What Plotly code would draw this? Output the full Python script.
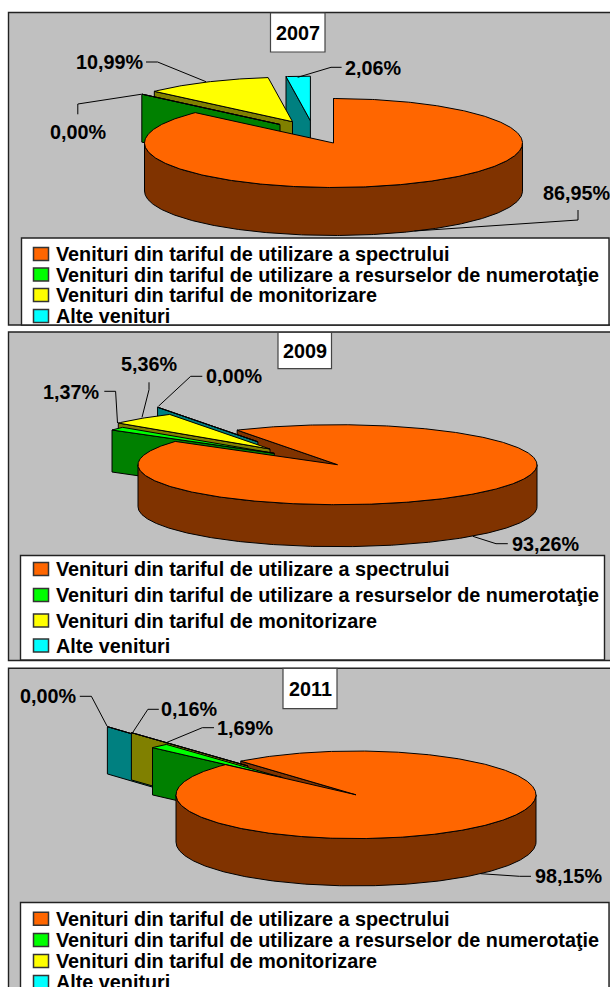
import numpy as np
import plotly.graph_objects as go

categories = ["Venituri din tariful de utilizare a spectrului",
              "Venituri din tariful de utilizare a resurselor de numerotaţie",
              "Venituri din tariful de monitorizare",
              "Alte venituri"]
years = ["2007", "2009", "2011"]
values_2007 = [86.95, 0.00, 10.99, 2.06]
values_2009 = [93.26, 1.37, 5.36, 0.00]
values_2011 = [98.15, 1.69, 0.16, 0.00]
all_values = [values_2007, values_2009, values_2011]

face_colors = ["#FF6600", "#00FF00", "#FFFF00", "#00FFFF"]
wall_colors = ["#803300", "#008000", "#808000", "#008080"]
GRAY = "#C0C0C0"
INK = "#000000"
FONT = "Liberation Sans"
FS = 19.8

panels = [
    dict(box=(8.5, 12.5, 640, 325), legend=(21.5, 238, 609, 325), title=(270.5, 13, 325, 52),
         pie=(334, 143, 189, 44.5, 48), first=0,
         apex=[(333.5, 143), (280, 124.5), (292.5, 121.7), (310.4, 120.7)],
         rows=[254, 274.5, 295, 316]),
    dict(box=(8.5, 332, 640, 660.5), legend=(20.5, 555.5, 604.5, 660), title=(278, 332.5, 331.5, 368.7),
         pie=(337.5, 464.7, 199.5, 40, 42), first=329.8,
         apex=[(337.5, 464.7), (274.3, 453.3), (270, 449), (257.9, 441.8)],
         rows=[569, 595, 620.5, 645.5]),
    dict(box=(8.5, 668.3, 640, 1010), legend=(20.5, 902.5, 609, 1010), title=(283, 668.3, 337, 708.7),
         pie=(356, 794.8, 180, 43.8, 47.3), first=320.2,
         apex=[(356, 794.8), (283, 777.8), (248, 766), (222.6, 760.3)],
         rows=[918.7, 940, 961, 982]),
]

# label centre positions and leader paths, in slice order per panel
label_pos = [
    [(577, 192.7), (78, 131.7), (110, 62), (373, 68)],
    [(546, 544), (71.6, 392), (149.4, 364), (234, 376.3)],
    [(568.5, 876.3), (245.7, 727.7), (189.5, 709.3), (48, 696.3)],
]
leaders = [
    [[(578, 210), (578, 220), (414.4, 231)],
     [(77.8, 114.3), (77.8, 104), (141, 94.3)],
     [(146, 62), (157.6, 62), (206, 81.7)],
     [(341.6, 67.3), (331, 67.3), (297.7, 77.3)]],
    [[(507.8, 543.7), (496, 543.7), (472.8, 536.3)],
     [(104.3, 391.3), (115.6, 391.3), (117.5, 423)],
     [(149, 382.3), (149, 389.7), (142, 417.3)],
     [(202.3, 376.3), (190.7, 376.3), (158.4, 406.3)]],
    [[(531, 876.3), (519.5, 876.3), (480.5, 873.7)],
     [(214, 727.7), (202.3, 727.7), (165.4, 743)],
     [(158.8, 709.3), (147.9, 709.3), (131.5, 734.3)],
     [(79.8, 696.3), (91.4, 696.3), (107, 726)]],
]

fig = go.Figure()


def poly(xs, ys, color):
    fig.add_trace(go.Scatter(x=list(xs), y=list(ys), mode="lines", fill="toself", fillcolor=color,
                             line=dict(color=INK, width=1), hoverinfo="skip", showlegend=False))


def rim(ax, ay, rx, ry, t0, t1):
    t = np.radians(np.linspace(t0, t1, max(2, int(abs(t1 - t0) * 2) + 2)))
    return ax + rx * np.sin(t), ay - ry * np.cos(t)


def start_wall(ax, ay, rx, ry, d, t0, color):
    x, y = rim(ax, ay, rx, ry, t0, t0)
    poly([x[0], ax, ax, x[0], x[0]], [y[0], ay, ay + d, y[0] + d, y[0]], color)


def face(ax, ay, rx, ry, t0, t1, color):
    x, y = rim(ax, ay, rx, ry, t0, t1)
    poly(np.r_[ax, x, ax], np.r_[ay, y, ay], color)


def outer_wall(ax, ay, rx, ry, d, t0, t1, color):
    for k in (0, 360):
        a, b = max(t0, 90 + k), min(t1, 270 + k)
        if b > a:
            x, y = rim(ax, ay, rx, ry, a, b)
            poly(np.r_[x, x[::-1], x[0]], np.r_[y, y[::-1] + d, y[0]], color)


for panel, values, year, lpos, lead in zip(panels, all_values, years, label_pos, leaders):
    x0, y0, x1, y1 = panel["box"]
    fig.add_shape(type="rect", x0=x0, y0=y0, x1=x1, y1=y1, fillcolor=GRAY,
                  line=dict(color="#222222", width=1.4), layer="below")
    x0, y0, x1, y1 = panel["legend"]
    fig.add_shape(type="rect", x0=x0, y0=y0, x1=x1, y1=y1, fillcolor="#FFFFFF",
                  line=dict(color="#222222", width=1.4), layer="below")
    x0, y0, x1, y1 = panel["title"]
    fig.add_shape(type="rect", x0=x0, y0=y0, x1=x1, y1=y1, fillcolor="#FFFFFF",
                  line=dict(color="#444444", width=1.2), layer="below")
    fig.add_annotation(x=(x0 + x1) / 2, y=(y0 + y1) / 2, text=f"<b>{year}</b>", showarrow=False,
                       font=dict(family=FONT, size=FS, color=INK), xanchor="center", yanchor="middle")

    cx, cy, rx, ry, d = panel["pie"]
    total = sum(values)
    sweep = [v / total * 360 for v in values]
    starts = [panel["first"] + sum(sweep[:i]) for i in range(4)]
    ends = [s + w for s, w in zip(starts, sweep)]
    ap = panel["apex"]

    # rear to front: main slice's cut wall, then the pulled-out slices, then the main slice
    start_wall(ap[0][0], ap[0][1], rx, ry, d, starts[0], wall_colors[0])
    for i in (3, 2, 1):
        start_wall(ap[i][0], ap[i][1], rx, ry, d, starts[i], wall_colors[i])
        face(ap[i][0], ap[i][1], rx, ry, starts[i], ends[i], face_colors[i])
    outer_wall(ap[0][0], ap[0][1], rx, ry, d, starts[0], ends[0], wall_colors[0])
    face(ap[0][0], ap[0][1], rx, ry, starts[0], ends[0], face_colors[0])

    for v, p, path in zip(values, lpos, lead):
        fig.add_annotation(x=p[0], y=p[1], text="<b>" + f"{v:.2f}".replace(".", ",") + "%</b>",
                           showarrow=False, font=dict(family=FONT, size=FS, color=INK),
                           xanchor="center", yanchor="middle")
        fig.add_trace(go.Scatter(x=[q[0] for q in path], y=[q[1] for q in path], mode="lines",
                                 line=dict(color=INK, width=1), hoverinfo="skip", showlegend=False))

    for cat, row, col in zip(categories, panel["rows"], face_colors):
        fig.add_shape(type="rect", x0=33.5, x1=48.5, y0=row - 6.5, y1=row + 6.5, fillcolor=col,
                      line=dict(color="#333333", width=1.5), layer="below")
        fig.add_annotation(x=54, y=row, text=f"<b>{cat}</b>", showarrow=False,
                           font=dict(family=FONT, size=FS, color=INK), xanchor="left", yanchor="middle")

fig.update_layout(width=610, height=987, margin=dict(l=0, r=0, t=0, b=0), autosize=False,
                  paper_bgcolor="#FFFFFF", plot_bgcolor="#FFFFFF", showlegend=False,
                  xaxis=dict(range=[0, 610], visible=False, fixedrange=True),
                  yaxis=dict(range=[987, 0], visible=False, fixedrange=True))
fig.write_html("out.html", config=dict(displayModeBar=False),
               post_script="document.body.style.margin='0';document.body.style.overflow='hidden';")
